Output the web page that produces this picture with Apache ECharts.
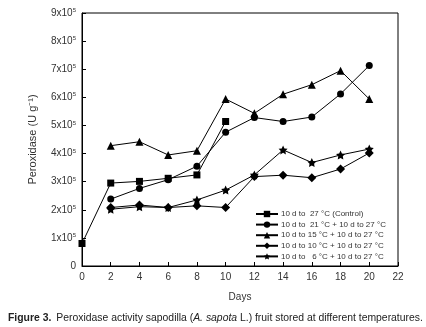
<!DOCTYPE html>
<html>
<head>
<meta charset="utf-8">
<script src="https://cdn.jsdelivr.net/npm/echarts@6/dist/echarts.min.js"></script>
<style>
html, body { margin: 0; padding: 0; background: #fff; }
#main { width: 426px; height: 327px; }
</style>
</head>
<body>
<div id="main"></div>
<script>
// days (x) and peroxidase values in units of 10^5 U g-1
var daysControl = [0, 2, 4, 6, 8, 10];
var control = [0.8, 2.95, 3.01, 3.12, 3.24, 5.14];
var daysStored = [2, 4, 6, 8, 10, 12, 14, 16, 18, 20];
var t21 = [2.38, 2.76, 3.07, 3.55, 4.76, 5.28, 5.14, 5.30, 6.12, 7.13];
var t15 = [4.28, 4.42, 3.95, 4.10, 5.94, 5.43, 6.11, 6.45, 6.95, 5.94];
var t10 = [2.08, 2.17, 2.08, 2.14, 2.08, 3.18, 3.23, 3.14, 3.45, 4.02];
var t6 = [2.02, 2.11, 2.08, 2.35, 2.70, 3.24, 4.13, 3.68, 3.95, 4.16];
var seriesNames = [
    '10 d to  27 °C (Control)',
    '10 d to  21 °C + 10 d to 27 °C',
    '10 d to 15 °C + 10 d to 27 °C',
    '10 d to 10 °C + 10 d to 27 °C',
    '10 d to   6 °C + 10 d to 27 °C'
];
var yTicks = [0, 1, 2, 3, 4, 5, 6, 7, 8, 9];

var star = 'path://M0,-10L2.9,-4L9.5,-3.1L4.8,1.5L5.9,8.1L0,5L-5.9,8.1L-4.8,1.5L-9.5,-3.1L-2.9,-4Z';
var font = '"Liberation Sans", Arial, sans-serif';

function pairs(xs, ys) {
    return xs.map(function (x, i) { return [x, ys[i]]; });
}

function line(name, data, symbol, size) {
    return {
        name: name,
        type: 'line',
        data: data,
        symbol: symbol,
        symbolSize: size,
        itemStyle: { color: '#000' },
        lineStyle: { color: '#000', width: 1 },
        animation: false
    };
}

var myChart = echarts.init(document.getElementById('main'));
var option = {
    title: {
        left: 3,
        top: 304,
        text: '{b|Figure 3.} {n|Peroxidase activity sapodilla (}{i|A. sapota}{n| L.) fruit stored at different temperatures.}',
        textStyle: {
            fontWeight: 'normal',
            rich: {
                b: { fontFamily: font, fontSize: 10.4, fontWeight: 'bold', color: '#222' },
                n: { fontFamily: font, fontSize: 10.4, fontWeight: 'normal', color: '#222' },
                i: { fontFamily: font, fontSize: 10.4, fontWeight: 'normal', fontStyle: 'italic', color: '#222' }
            }
        }
    },
    legend: {
        orient: 'vertical',
        left: 250,
        top: 205,
        itemGap: 2.6,
        itemWidth: 22,
        itemHeight: 8,
        textStyle: { fontFamily: font, fontSize: 8, color: '#333', padding: [0, 0, 0, -2] },
        data: seriesNames
    },
    grid: {
        left: 82,
        right: 28,
        top: 13,
        bottom: 61,
        show: true,
        borderColor: '#000',
        borderWidth: 1
    },
    xAxis: {
        type: 'value',
        min: 0,
        max: 22,
        interval: 2,
        name: 'Days',
        nameLocation: 'middle',
        nameGap: 26,
        nameTextStyle: { fontFamily: font, fontSize: 10, color: '#333' },
        axisLine: { lineStyle: { color: '#000' } },
        axisTick: { inside: true, length: 4, lineStyle: { color: '#000' } },
        axisLabel: { fontFamily: font, fontSize: 10, color: '#333', margin: 6 },
        splitLine: { show: false }
    },
    yAxis: {
        type: 'value',
        min: 0,
        max: 9,
        interval: 1,
        name: 'Peroxidase (U g⁻¹)',
        nameLocation: 'middle',
        nameGap: 44,
        nameTextStyle: { fontFamily: font, fontSize: 11, color: '#333' },
        axisLine: { lineStyle: { color: '#000' } },
        axisTick: { inside: true, length: 4, lineStyle: { color: '#000' } },
        axisLabel: {
            margin: 6,
            formatter: function (v) {
                if (yTicks.indexOf(v) < 0) return '';
                return v === 0 ? '{a|0}' : '{a|' + v + 'x10}{s|5}';
            },
            rich: {
                a: { fontFamily: font, fontSize: 10, color: '#333' },
                s: { fontFamily: font, fontSize: 6, color: '#333', verticalAlign: 'top', padding: [0, 0, 5, 0] }
            }
        },
        splitLine: { show: false }
    },
    series: [
        line(seriesNames[0], pairs(daysControl, control), 'rect', 7),
        line(seriesNames[1], pairs(daysStored, t21), 'circle', 7),
        line(seriesNames[2], pairs(daysStored, t15), 'triangle', 8),
        line(seriesNames[3], pairs(daysStored, t10), 'diamond', 9),
        line(seriesNames[4], pairs(daysStored, t6), star, 9)
    ]
};
myChart.setOption(option);
</script>
</body>
</html>
